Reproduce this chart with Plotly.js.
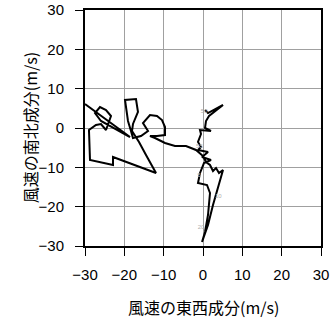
<!DOCTYPE html>
<html>
<head>
<meta charset="utf-8">
<script src="https://cdn.plot.ly/plotly-3.0.1.min.js"></script>
<style>html,body{margin:0;padding:0;background:#fff;}#chart{width:331px;height:318px;}</style>
</head>
<body>
<div id="chart"></div>
<script>
// Wind hodograph: east-west (u) and north-south (v) components, m/s
const uWind = [0.51, 1.27, 5.09, 1.53, 0.76, 0.51, 2.03, -0.76, -0.51, -1.27, -0.51, -1.27, 1.27, -0.25, 2.03, 0.25,
  -0.76, -1.27, 1.02, 1.78, 1.27, 0.51, -0.25, 0.25, 1.27, 2.54, 5.09, 4.07, 3.31, 2.54, 1.78, 0.76, 0.0, -1.78,
  -4.32, -7.12, -9.66, -12.20, -13.48, -11.70, -9.66, -9.66, -10.43, -11.70, -13.48, -15.26, -13.98, -15.77, -17.80,
  -18.31, -19.07, -19.83, -17.04, -16.53, -17.80, -18.05, -16.27, -14.49, -11.95, -22.88, -22.88, -28.73, -28.99,
  -27.21, -25.94, -24.66, -24.15, -23.39, -24.66, -26.19, -27.46, -25.94, -18.56, -30.0];
const vWind = [4.58, 3.81, 5.85, 3.05, 1.78, 0.0, -0.76, -0.51, -1.53, -3.56, -4.83, -5.59, -6.10, -7.37, -8.14, -8.90,
  -11.44, -13.98, -14.49, -16.53, -22.12, -26.45, -28.99, -27.72, -24.67, -19.58, -10.68, -11.44, -10.17, -10.93, -9.41, -8.65, -7.12, -5.59,
  -4.58, -4.58, -3.81, -2.54, -2.03, -2.03, -1.78, 0.25, 2.03, 3.05, 3.31, 1.27, -0.76, -2.03, -2.54,
  -0.76, 1.78, 7.12, 7.37, 4.07, 1.02, -0.76, -3.56, -6.87, -11.44, -7.37, -9.41, -8.14, -0.51,
  0.76, 1.02, -0.51, 1.02, 3.05, 4.58, 5.34, 3.81, 1.78, -2.29, 6.10];

// faint level labels along the curve
const labelText = ["50", "55", "5", "10", "20"];
const labelU = [0.3, -0.9, -1.0, 3.9, -0.5];
const labelV = [4.3, -4.6, -12.0, -17.3, -25.3];

const tickVals = [-30, -20, -10, 0, 10, 20, 30];
const tickText = ["\u221230", "\u221220", "\u221210", "0", "10", "20", "30"];

const xTitle = '風速の東西成分(m/s)';
const yTitle = '風速の南北成分(m/s)';

const traces = [
  {x: uWind, y: vWind, type: 'scatter', mode: 'lines',
   line: {color: '#000', width: 2}, hoverinfo: 'none'},
  {x: labelU, y: labelV, text: labelText, type: 'scatter', mode: 'text',
   textfont: {family: 'Liberation Sans, Arial, sans-serif', size: 6, color: '#b0b0b0'},
   hoverinfo: 'none'}
];

const axisBase = {
  range: [-30, 30], tickvals: tickVals, ticktext: tickText,
  ticks: 'outside', ticklen: 8, tickwidth: 1, tickcolor: '#000',
  showgrid: true, gridcolor: '#a0a0a0', gridwidth: 1,
  zeroline: false, showline: true, linecolor: '#000', linewidth: 2, mirror: true,
  tickfont: {family: 'Liberation Sans, Arial, sans-serif', size: 15, color: '#000'},
  fixedrange: true
};

const titleFont = {family: 'Noto Sans CJK JP, sans-serif', size: 16, color: '#000'};

const layout = {
  width: 331, height: 318,
  margin: {l: 85, r: 10, t: 10, b: 72, pad: 0},
  paper_bgcolor: '#fff', plot_bgcolor: '#fff',
  showlegend: false,
  xaxis: Object.assign({}, axisBase, {ticklabelstandoff: 6}),
  yaxis: Object.assign({}, axisBase, {ticklabelstandoff: 8}),
  annotations: [
    {text: xTitle, xref: 'paper', yref: 'paper', x: 0.5, y: -0.258,
     xanchor: 'center', yanchor: 'middle', showarrow: false, font: titleFont},
    {text: yTitle, xref: 'paper', yref: 'paper', x: -0.232, y: 0.5, textangle: -90,
     xanchor: 'center', yanchor: 'middle', showarrow: false, font: titleFont}
  ]
};

Plotly.newPlot('chart', traces, layout, {staticPlot: true, displayModeBar: false});
</script>
</body>
</html>
